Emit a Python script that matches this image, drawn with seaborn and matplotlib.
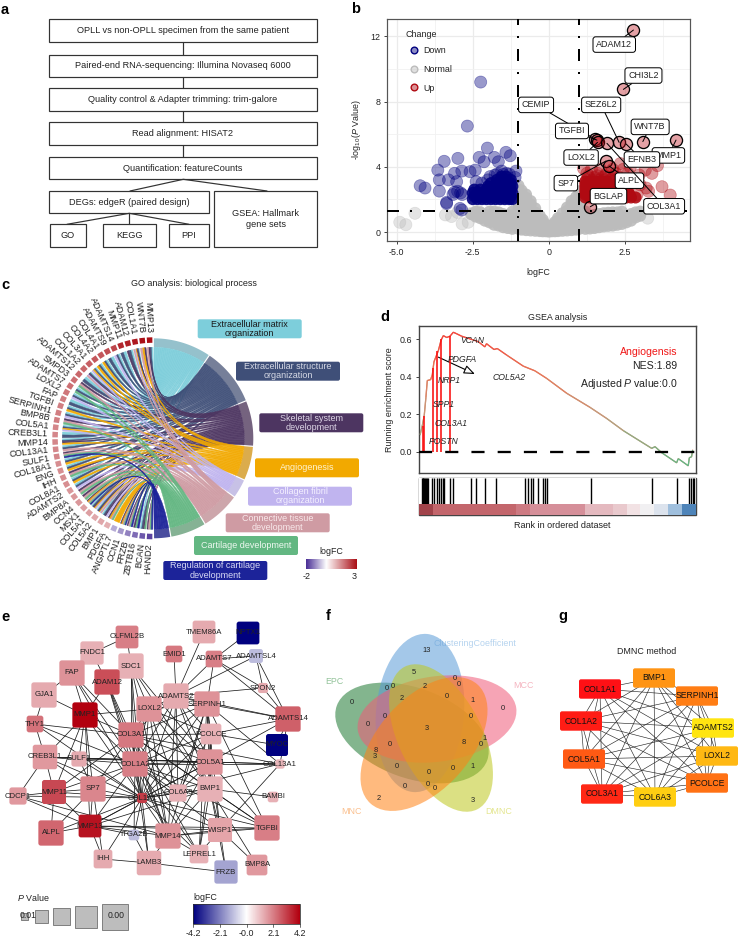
import numpy as np
import pandas as pd
import matplotlib
matplotlib.use('Agg')
import matplotlib.pyplot as plt
import seaborn as sns
from itertools import combinations
from matplotlib.collections import LineCollection
from matplotlib.colors import LinearSegmentedColormap, Normalize
from matplotlib.lines import Line2D
from matplotlib.patches import Ellipse, FancyBboxPatch, Polygon, PathPatch, Rectangle
from matplotlib.path import Path

# panel a
flow_steps = ['OPLL vs non-OPLL specimen from the same patient',
              'Paired-end RNA-sequencing: Illumina Novaseq 6000',
              'Quality control & Adapter trimming: trim-galore',
              'Read alignment: HISAT2',
              'Quantification: featureCounts']
flow_lower = ['DEGs: edgeR (paired design)', 'GSEA: Hallmark\ngene sets', 'GO', 'KEGG', 'PPI']

# panel b, normal genes as {logFC: [-log10 P, ...]}
normal_columns = {
    0.0: [.03, .2], -.1: [.05, .3, .45], -.2: [.05, .3, .6, .75], -.3: [.06, .35, .7, 1.0],
    -.45: [.08, .4, .8, 1.2, 1.45], -.6: [.1, .5, .9, 1.3, 1.7, 1.9],
    -.75: [.12, .5, .9, 1.3, 1.7, 2.1, 2.3], -.9: [.15, .55, .95, 1.35, 1.75, 2.15, 2.55],
    -1.0: [.2, .6, 1, 1.4, 1.8, 2.2, 2.6, 2.85],
    .1: [.05, .25, .4], .2: [.05, .3, .6], .3: [.06, .35, .7, .85], .45: [.08, .4, .8, 1.15],
    .6: [.1, .5, .9, 1.3, 1.5], .75: [.12, .5, .9, 1.3, 1.7, 1.9], .9: [.15, .55, .95, 1.35, 1.75, 2.15],
    1.0: [.2, .6, 1, 1.4, 1.8, 2.2, 2.5],
    -1.2: [.2, .6, 1, 1.25], -1.35: [.25, .65, 1.05], -1.5: [.3, .7, 1.1], -1.65: [.4, .8, 1.2], -1.8: [.45, .85, 1.25],
    -1.95: [.6, .95, 1.25], -2.1: [.7, 1.05], -2.25: [.85, 1.2], -2.4: [.95, 1.25], -2.55: [1.1],
    1.2: [.2, .6, 1, 1.25], 1.35: [.22, .62, 1.02], 1.5: [.25, .65, 1.05], 1.65: [.3, .7, 1.1], 1.8: [.35, .75, 1.15],
    1.95: [.38, .78, 1.18], 2.1: [.4, .8, 1.2], 2.25: [.45, .85, 1.2], 2.4: [.5, .9, 1.25], 2.55: [.6, 1.0],
    2.7: [.7, 1.1], 2.85: [.9, 1.2], 3.0: [1.0, 1.25],
}
normal_x = [-4.9, -4.7, -4.4, -3.4, -3.2, -2.85, -2.65, -3.0, -2.55, -2.3, 3.25]
normal_y = [.6, .45, 1.15, 1.05, .95, .5, .6, 1.2, 1.15, 1.25, .85]
# dense blocks as {-log10 P: [logFC, ...]}
down_rows = {
    2.02: [-2.5, -2.35, -2.2, -2.05, -1.9, -1.75, -1.6, -1.45, -1.3, -1.2],
    2.2: [-2.45, -2.3, -2.15, -2.0, -1.85, -1.7, -1.55, -1.4, -1.25],
    2.4: [-2.5, -2.35, -2.2, -2.05, -1.9, -1.75, -1.6, -1.45, -1.3, -1.2],
    2.6: [-2.45, -2.25, -2.05, -1.85, -1.7, -1.55, -1.4, -1.25],
    2.8: [-2.0, -1.8, -1.65, -1.5, -1.35, -1.2],
    3.0: [-1.9, -1.7, -1.55, -1.4, -1.25],
    3.2: [-1.7, -1.55, -1.4, -1.25],
    3.4: [-1.55, -1.4],
}
down_x = [-2.24, -2.68, -2.02, -1.41, -1.27, -2.29, -1.79, -2.13, -1.66, -2.99, -3.44, -3.65, -2.86, -3.1,
          -3.3, -3.03, -3.6, -2.42, -2.59, -2.39, -4.23, -4.07, -3.6, -3.36, -2.92, -2.86, -1.08, -1.11,
          -1.93, -1.55, -1.39, -1.77, -3.1, -3.0, -2.9, -3.15, -2.85, -3.36, -1.7, -1.5, -1.3, -2.2, -2.0]
down_y = [9.2, 6.5, 5.15, 4.89, 4.68, 4.58, 4.58, 4.31, 4.31, 4.52, 4.34, 3.8, 3.74, 3.6,
          3.2, 3.09, 3.2, 3.8, 3.7, 3.09, 2.84, 2.7, 2.51, 1.82, 1.45, 1.35, 3.74, 3.35,
          3.4, 3.74, 3.6, 3.5, 2.45, 2.5, 2.4, 2.3, 2.3, 1.75, 3.55, 3.55, 3.55, 3.0, 3.2]
up_rows = {
    2.12: [1.2, 1.35, 1.5, 1.65, 1.8, 1.95, 2.1, 2.25, 2.4, 2.55, 2.7, 2.85],
    2.3: [1.2, 1.3, 1.45, 1.6, 1.75, 1.9, 2.05, 2.2, 2.35, 2.5, 2.65],
    2.5: [1.2, 1.35, 1.5, 1.65, 1.8, 1.95, 2.1, 2.25, 2.4, 2.6],
    2.7: [1.2, 1.3, 1.45, 1.6, 1.75, 1.9, 2.05, 2.2],
    2.9: [1.2, 1.4, 1.55, 1.7, 1.85, 2.0, 2.2],
    3.1: [1.2, 1.35, 1.5, 1.7, 1.9],
}
up_x = [3.72, 3.99, 3.57, 3.39, 3.17, 3.28, 3.2, 2.97, 2.68, 2.35, 1.14, 3.0, 2.8, 2.9, 2.4, 2.1, 1.3, 1.5, 1.75, 2.0, 2.3,
        1.25, 1.6, 1.9, 2.2, 2.6, 1.4, 1.7, 2.1, 2.45, 1.25, 1.45, 1.65, 1.85, 2.05, 2.25, 1.3, 1.6, 1.85, 2.15]
up_y = [2.78, 2.27, 4.07, 3.6, 3.8, 2.5, 2.7, 3.5, 4.0, 4.2, 3.9, 2.9, 3.2, 2.3, 3.1, 3.1, 3.35, 3.35, 3.35, 3.35, 3.35,
        3.6, 3.6, 3.6, 3.6, 3.6, 3.85, 3.85, 3.85, 3.85, 3.2, 3.2, 3.2, 3.2, 3.2, 3.2, 3.45, 3.45, 3.45, 3.45]
gene_names = ['ADAM12', 'CHI3L2', 'CEMIP', 'SEZ6L2', 'TGFBI', 'WNT7B', 'MMP1', 'EFNB3', 'LOXL2', 'SP7', 'ALPL', 'BGLAP', 'COL3A1']
gene_fc = [2.78, 2.45, 1.52, 2.31, 1.58, 3.09, 4.18, 2.54, 1.6, 1.88, 1.98, 1.36, 1.91]
gene_p = [12.39, 8.75, 5.7, 5.5, 5.64, 5.55, 5.64, 5.4, 5.5, 4.36, 4.05, 1.55, 5.44]
gene_label_fc = [2.15, 3.11, -0.42, 1.72, 0.76, 3.33, 3.93, 3.06, 1.06, 0.56, 2.65, 1.96, 3.79]
gene_label_p = [11.5, 9.6, 7.8, 7.8, 6.2, 6.45, 4.7, 4.45, 4.57, 3.0, 3.15, 2.2, 1.58]

# panel c
term_names = ['Extracellular matrix\norganization', 'Extracellular structure\norganization',
              'Skeletal system\ndevelopment', 'Angiogenesis', 'Collagen fibril\norganization',
              'Connective tissue\ndevelopment', 'Cartilage development', 'Regulation of cartilage\ndevelopment']
term_codes = 'ABCDEFGH'
term_span = [34, 34, 26.6, 20, 11.3, 23, 21, 10]
term_colors = ['#7dcedb', '#3f4f78', '#4d3561', '#f2a900', '#c0b4ef', '#cf9ba3', '#63b782', '#1c2399']
term_ring = ['#95c1cc', '#767f99', '#75637f', '#dbac4c', '#c7c1e6', '#cda6ab', '#85b294', '#4a4d9f']
term_text = ['#1a1a1a', '#d5d8e4', '#ddd6e6', '#fff3d0', '#f4f0ff', '#f8e8ea', '#eef8f0', '#d8daf5']
chord_genes = ['MMP13', 'WNT7B', 'COL1A1', 'ADAM12', 'MMP11', 'ADAMTS14', 'ADAMTS9', 'COL4A1', 'COL4A2', 'COL3A1',
               'COL1A2', 'ADAMTS12', 'SMPD3', 'ADAMTS7', 'LOXL2', 'FAP', 'TGFBI', 'SERPINH1', 'BMP8B', 'COL5A1',
               'CREB3L1', 'MMP14', 'COL13A1', 'SULF1', 'COL18A1', 'ENG', 'IHH', 'COL8A1', 'ADAMTS2', 'BMP8A',
               'CCN4', 'MSX1', 'COL5A1', 'COL5A2', 'BMP1', 'PDGFA', 'ANGPTL7', 'CCN1', 'FRZB', 'ZBTB16', 'BCAN', 'HAND2']
chord_fc = [3.0, 3.0, 2.9, 2.8, 2.7, 2.3, 2.2, 2.1, 2.1, 2.0, 1.9, 1.9, 1.8, 1.8, 1.7, 1.6, 1.6, 1.6, 1.6, 1.5,
            1.5, 1.5, 1.5, 1.5, 1.4, 1.4, 1.4, 1.4, 1.3, 1.3, 1.3, 1.2, 1.2, 1.1, 1.1, 1.0,
            -0.8, -1.0, -1.2, -1.4, -1.6, -1.8]
chord_links = ['ABCF', 'CDF', 'ABCDEF', 'ABC', 'AB', 'ABE', 'AB', 'ABD', 'ABD', 'ABDE',
               'ABCEF', 'AB', 'CFG', 'ABG', 'ABE', 'AB', 'ABD', 'ABE', 'CFG', 'ABDE',
               'AB', 'ABCD', 'ABF', 'CFGH', 'ABD', 'ABD', 'CFG', 'ABD', 'ABE', 'CFG',
               'CFG', 'CDFGH', 'ABCDE', 'ABCDEF', 'ABCE', 'CDFG', 'D', 'CDFGH', 'CFGH', 'CGH', 'ABCG', 'CFGH']

# panel d
gsea_x = [0.4, 1.2, 1.9, 2.5, 3.0, 4.2, 4.8, 5.4, 7.0, 7.96, 8.8, 10.0, 11.2, 12.4, 13.6, 15.4, 19.6, 21.4, 23.8, 24.4,
          27.1, 28.3, 31.7, 37.7, 41.9, 46.1, 53.4, 61.8, 67.8, 73.9, 84.1, 85.3, 87.7, 93.1, 93.7, 97.3, 97.7, 98.5, 98.9]
gsea_y = [.09, .14, .195, .29, .38, .385, .41, .48, .54, .595, .62, .61, .617, .638, .63, .617, .597, .588, .56, .577,
          .546, .551, .516, .457, .432, .392, .312, .237, .178, .112, .018, .027, -.005, -.059, -.037, -.075, -.032, -.027, .009]
hit_x = [1.3, 1.9, 5.2, 6.65, 7.96, 11.2]
hit_top = [.14, .19, .445, .54, .6, .62]
hit_names = ['VCAN', 'PDGFA', 'COL5A2', 'NRP1', 'SPP1', 'COL3A1', 'POSTN']
hit_name_x = [19.3, 15.8, 26.7, 10.8, 8.8, 11.5, 9.0]
hit_name_y = [.595, .49, .395, .38, .25, .15, .052]
rug_x = [1.0, 1.3, 1.6, 1.9, 2.2, 2.5, 2.8, 3.1, 4.6, 5.5, 6.4, 7.2, 7.9, 8.5, 9.0, 11.2, 12.4, 18.8, 20.6, 23.8, 27.7,
         38.3, 39.5, 40.5, 41.3, 43.1, 44.9, 45.5, 46.1, 62.0, 84.2, 93.4, 97.5, 98.2, 98.9, 99.4]
strip_values = [2.7, 2.0, 2.0, 2.0, 2.0, 2.0, 2.0, 1.7, 1.4, 1.4, 1.4, 1.4, .8, .8, .6, .25, -.1, -.4, -1.3, -2.6]

# panel e
net_names = ['OLFML2B', 'FNDC1', 'TMEM86A', 'NPTX1', 'EMID1', 'ADAMTS7', 'ADAMTSL4', 'SDC1', 'FAP', 'ADAM12', 'GJA1',
             'ADAMTS2', 'SPON2', 'SERPINH1', 'LOXL2', 'MMP1', 'THY1', 'ADAMTS14', 'PCOLCE', 'COL3A1', 'MYOC',
             'CREB3L1', 'SULF1', 'COL1A2', 'COL5A1', 'COL13A1', 'BMP1', 'SP7', 'MMP11', 'COL6A3', 'COL1A1', 'CDCP1',
             'BAMBI', 'MMP13', 'ALPL', 'TGFBI', 'WISP1', 'MMP14', 'ITGA2B', 'LEPREL1', 'IHH', 'LAMB3', 'BMP8A', 'FRZB']
net_x = [127, 92, 204, 248, 174, 214, 256, 131, 72, 107, 44, 176, 263, 207, 149, 85, 35, 288, 211, 131, 277,
         45, 79, 135, 210, 280, 210, 93, 54, 178, 142, 18, 273, 90, 51, 267, 220, 168, 134, 199, 103, 149, 257, 226]
net_y = [637, 653, 632, 633, 654, 659, 656, 666, 673, 682, 695, 696, 688, 704, 709, 715, 724, 719, 734, 735, 745,
         757, 759, 764, 762, 764, 789, 789, 792, 793, 798, 796, 797, 826, 833, 828, 830, 836, 835, 854, 859, 863, 865, 872]
net_score = [.9, .92, .9, .9, .66, .66, .55, 1, 1, 1, 1, 1, .4, 1, 1, 1, .66, 1, .82, 1, .87,
             .97, .6, 1, 1, .37, 1, 1, .95, .68, .4, .68, .42, .9, 1, 1, .95, 1, .42, .74, .74, .97, .82, .92]
net_fc = [2.1, 1.3, 1.4, -4.2, 2.2, 2.1, -1.1, 1.3, 1.8, 2.9, 1.4, 1.4, 1.4, 1.8, 1.8, 4.2, 2.3, 2.6, 1.3, 2.2, -4.2,
          1.7, 1.4, 2.1, 1.8, 1.2, 1.3, 2.0, 3.0, 1.3, 3.2, 1.7, 1.3, 3.9, 2.5, 2.1, 1.5, 1.8, -1.1, 1.3, 1.4, 1.4, 1.7, -1.5]
net_edges = {
    'OLFML2B': 'FNDC1 SDC1', 'TMEM86A': 'ADAMTS2', 'NPTX1': 'ADAMTS7', 'EMID1': 'ADAMTS2',
    'ADAMTS7': 'ADAMTSL4 ADAMTS14 SERPINH1 ADAMTS2 SPON2',
    'ADAMTSL4': 'ADAMTS14 ADAMTS2 SPON2', 'SPON2': 'ADAMTS2 ADAMTS14', 'FAP': 'GJA1 COL1A1 COL1A2 COL3A1 MMP1 FNDC1',
    'GJA1': 'THY1 MMP1', 'THY1': 'CREB3L1 COL3A1 COL1A2 COL1A1',
    'MMP1': 'LOXL2 SP7 MMP11 MMP13 COL1A1 COL3A1 COL1A2 CREB3L1 SULF1 ADAM12',
    'ADAM12': 'COL1A1 COL1A2 COL3A1 FNDC1 MMP14', 'SDC1': 'COL1A1 COL1A2 COL3A1 COL5A1 BMP1 MMP14 LOXL2',
    'LOXL2': 'COL1A1 COL1A2 COL3A1 COL5A1 SERPINH1 ADAMTS2 BMP1 PCOLCE COL6A3 MMP14',
    'ADAMTS2': 'COL1A1 COL1A2 COL3A1 COL5A1 BMP1 SERPINH1 PCOLCE COL6A3 MMP14 ADAMTS14',
    'SERPINH1': 'COL1A1 COL1A2 COL3A1 COL5A1 BMP1 PCOLCE COL6A3 ADAMTS14 COL13A1 TGFBI WISP1 MMP14 LEPREL1',
    'PCOLCE': 'COL1A1 COL1A2 COL3A1 COL5A1 BMP1 ADAMTS14 COL6A3 MYOC',
    'COL3A1': 'COL1A1 COL1A2 COL5A1 BMP1 COL6A3 MMP14 SP7 LEPREL1 TGFBI MMP11 COL13A1',
    'COL1A2': 'COL1A1 COL5A1 BMP1 COL6A3 MMP14 SP7 MMP11 MMP13 ITGA2B LEPREL1 TGFBI WISP1 COL13A1 CREB3L1 LAMB3',
    'COL5A1': 'COL1A1 BMP1 COL6A3 MMP14 COL13A1 TGFBI LEPREL1 WISP1 ADAMTS14 MMP13 CREB3L1 SULF1',
    'BMP1': 'COL1A1 COL6A3 BAMBI TGFBI WISP1 MMP14 LEPREL1 MMP13 BMP8A FRZB',
    'COL1A1': 'SP7 MMP11 MMP13 ALPL COL6A3 MMP14 LAMB3 ITGA2B CDCP1 TGFBI WISP1 LEPREL1 COL13A1 CREB3L1 SULF1 IHH',
    'CREB3L1': 'CDCP1 SP7 MMP11 COL13A1', 'CDCP1': 'MMP11 MMP13 MMP14',
    'MMP11': 'SP7 ALPL MMP13', 'SP7': 'ALPL MMP13 IHH SULF1', 'ALPL': 'MMP13',
    'MMP13': 'IHH MMP14 ITGA2B WISP1 TGFBI', 'LAMB3': 'IHH FRZB MMP14 ITGA2B',
    'WISP1': 'FRZB BMP8A TGFBI MMP14 LEPREL1 COL13A1', 'MMP14': 'TGFBI LEPREL1',
    'ADAMTS14': 'MYOC COL13A1',
}
size_legend = ['0.01', '', '', '', '0.00']
size_legend_side = [7, 13, 17, 22, 26]
size_legend_x = [24, 41, 61, 86, 115]
fc_ticks = [-4.2, -2.1, 0.0, 2.1, 4.2]
fc_tick_labels = ['-4.2', '-2.1', '-0.0', '2.1', '4.2']

# panel f
venn_names = ['EPC', 'ClusteringCoefficient', 'MCC', 'DMNC', 'MNC']
venn_cx = [412, 420, 437, 441, 424]
venn_cy = [733, 713, 719, 738, 744]
venn_major = [240, 238, 240, 240, 240]
venn_minor = [135, 132, 128, 125, 138]
venn_angle = [-20, 85, 8, -63, 48]
venn_colors = ['#1e7832', '#5a9bd7', '#f05a78', '#bec81e', '#ff8214']
venn_label_colors = ['#93c39a', '#b5d3ef', '#f5b5c0', '#e4e68f', '#fbc08f']
venn_label_x = [334, 516, 524, 499, 351]
venn_label_y = [681, 644, 686, 811, 811]
venn_counts = [13, 5, 0, 0, 0, 0, 2, 0, 2, 1, 0, 0, 0, 0, 0, 3, 0, 8, 0, 1, 8, 3, 0, 0, 1, 0, 0, 0, 0, 2, 3]
venn_count_x = [427, 414, 455, 459, 387, 393, 425, 447, 402, 473, 352, 503, 385, 471, 368, 427, 390, 464, 481, 485,
                376, 375, 397, 453, 473, 429, 405, 428, 435, 379, 473]
venn_count_y = [650, 673, 679, 685, 689, 687, 686, 696, 698, 700, 702, 708, 716, 716, 725, 728, 744, 743, 745, 739,
                750, 756, 766, 769, 766, 773, 786, 785, 789, 799, 800]

# panel g
hub_names = ['COL1A1', 'BMP1', 'SERPINH1', 'ADAMTS2', 'LOXL2', 'PCOLCE', 'COL6A3', 'COL3A1', 'COL5A1', 'COL1A2']
hub_x = [600, 654, 697, 713, 717, 707, 655, 602, 584, 581]
hub_y = [689, 678, 696, 728, 756, 783, 797, 794, 759, 721]
hub_rank = [10, 4.5, 5.5, 1, 3, 6, 2, 9, 7, 9.5]

PX = 0.72  # one picture pixel in points

sns.set_theme(style='white', rc={'axes.linewidth': 1.2 * PX, 'text.color': '#222222',
                                 'axes.labelcolor': '#222222', 'xtick.color': '#222222', 'ytick.color': '#222222'})
plt.rcParams['font.family'] = ['Liberation Sans', 'DejaVu Sans']
plt.rcParams['mathtext.fontset'] = 'custom'
plt.rcParams['mathtext.rm'] = 'Liberation Sans'
plt.rcParams['mathtext.it'] = 'Liberation Sans:italic'

fig = plt.figure(figsize=(7.38, 9.41), dpi=100)
bg = fig.add_axes([0, 0, 1, 1])
bg.set_xlim(0, 738)
bg.set_ylim(941, 0)
bg.axis('off')


def px_axes(left, top, right, bottom):
    return fig.add_axes([left / 738, 1 - bottom / 941, (right - left) / 738, (bottom - top) / 941])


for label, lx, ly in zip('abcdefg', [5, 356, 5, 385, 5, 328, 563], [10, 9, 285, 317, 617, 616, 616]):
    bg.text(lx, ly, label, fontsize=10.5, fontweight='bold', color='black', ha='center', va='center')

# a: workflow
box_edge = '#333333'


def flow_box(x0, y0, x1, y1, text):
    bg.add_patch(Rectangle((x0, y0), x1 - x0, y1 - y0, fc='white', ec=box_edge, lw=1.2 * PX))
    bg.text((x0 + x1) / 2, (y0 + y1) / 2, text, fontsize=6.6, ha='center', va='center', linespacing=1.35)


flow_tops = [19.3, 55, 88.3, 122.3, 157.3]
flow_bots = [42, 76.7, 110.7, 145, 179.3]
for i, step in enumerate(flow_steps):
    flow_box(48.7, flow_tops[i], 317.3, flow_bots[i], step)
    if i < 4:
        bg.plot([183.3, 183.3], [flow_bots[i], flow_tops[i + 1]], color=box_edge, lw=1.2 * PX)
flow_box(48.7, 191, 209.3, 213.3, flow_lower[0])
flow_box(214.3, 191, 317.3, 247.3, flow_lower[1])
flow_box(49.7, 224.3, 86.3, 247.3, flow_lower[2])
flow_box(103, 224.3, 155.7, 247.3, flow_lower[3])
flow_box(168.7, 224.3, 209.3, 247.3, flow_lower[4])
bg.plot([130, 183.3, 267], [191, 179.3, 191], color=box_edge, lw=1.2 * PX)
bg.plot([67, 129.3, 189], [224.3, 213.3, 224.3], color=box_edge, lw=1.2 * PX)
bg.plot([129.3, 129.3], [213.3, 224.3], color=box_edge, lw=1.2 * PX)

# b: volcano
dense = [('Normal', x, y) for x, ys in normal_columns.items() for y in ys]
dense += [('Down', x, y) for y, xs in down_rows.items() for x in xs]
dense += [('Up', x, y) for y, xs in up_rows.items() for x in xs]
sparse = [('Normal', x, y) for x, y in zip(normal_x, normal_y)]
sparse += [('Down', x, y) for x, y in zip(down_x, down_y)]
sparse += [('Up', x, y) for x, y in zip(up_x, up_y)]
volcano_dense = pd.DataFrame(dense, columns=['Change', 'logFC', 'logP'])
volcano_sparse = pd.DataFrame(sparse, columns=['Change', 'logFC', 'logP'])
change_colors = {'Down': '#00007f', 'Normal': '#bcbcbc', 'Up': '#b00a12'}

ax_b = px_axes(387.3, 19.3, 690, 241)
sns.scatterplot(data=volcano_dense, x='logFC', y='logP', hue='Change', palette=change_colors, s=76, alpha=0.9,
                edgecolor='none', legend=False, ax=ax_b, zorder=3)
sns.scatterplot(data=volcano_sparse, x='logFC', y='logP', hue='Change', palette=change_colors, s=76, alpha=0.4,
                edgecolor='face', linewidth=0.5, legend=False, ax=ax_b, zorder=3)
sns.scatterplot(x=gene_fc, y=gene_p, s=76, color=(0.73, 0.04, 0.08, 0.38), edgecolor='black',
                linewidth=1.3 * PX, ax=ax_b, zorder=4)
ax_b.set_xlim(-5.31, 4.64)
ax_b.set_ylim(-0.55, 13.05)
ax_b.set_xticks([-5, -2.5, 0, 2.5], ['-5.0', '-2.5', '0', '2.5'])
ax_b.set_yticks([0, 4, 8, 12])
ax_b.set_xticks([-3.75, -1.25, 1.25, 3.75], minor=True)
ax_b.set_yticks([2, 6, 10], minor=True)
ax_b.grid(True, which='major', color='#ebebeb', lw=1.2 * PX)
ax_b.grid(True, which='minor', color='#f1f1f1', lw=0.8 * PX)
ax_b.set_axisbelow(True)
ax_b.tick_params(which='major', labelsize=6.4, length=2.5, width=0.6, bottom=True, left=True, pad=2.5)
ax_b.tick_params(which='minor', length=0)
for side in ax_b.spines.values():
    side.set_color('#555555')
    side.set_linewidth(1.2 * PX)
ax_b.set_xlabel('logFC', fontsize=6.4, labelpad=8)
ax_b.set_ylabel(r'-log$_{10}$($\mathit{P}$ Value)', fontsize=6.4, labelpad=5)
thick_dash = (0, (6, 5.5, 1, 5.5))
for cut in [-1, 1]:
    ax_b.axvline(cut, color='black', lw=2 * PX, ls=thick_dash, zorder=5)
ax_b.axhline(1.3, color='black', lw=2 * PX, ls=thick_dash, zorder=5)
for name, x, y, lx, ly in zip(gene_names, gene_fc, gene_p, gene_label_fc, gene_label_p):
    ax_b.annotate(name, xy=(x, y), xytext=(lx, ly), fontsize=6.5, ha='center', va='center', zorder=7,
                  bbox=dict(boxstyle='round,pad=0.36,rounding_size=0.3', fc='white', ec='black', lw=1.0 * PX),
                  arrowprops=dict(arrowstyle='-', color='black', lw=1.0 * PX, shrinkA=0, shrinkB=0))
handles = [Line2D([], [], ls='', marker='o', ms=4.8, mfc=(*matplotlib.colors.to_rgb(c), 0.45), mec=c, mew=1.0,
                  label=k) for k, c in change_colors.items()]
leg_b = ax_b.legend(handles=handles, title='Change', loc='upper left', bbox_to_anchor=(0.035, 0.985), frameon=False, fontsize=6.4,
                    title_fontsize=6.4, labelspacing=1.12, handletextpad=0.05, borderpad=0.3, alignment='left')
leg_b._legend_box.sep = 5

# c: chord diagram
cx, cy = 153.3, 438.3


def polar(r, deg):
    rad = np.deg2rad(deg)
    return cx + r * np.cos(rad), cy - r * np.sin(rad)


def ring(r0, r1, a0, a1, **kw):
    angs = np.linspace(a0, a1, 24)
    outer = [polar(r1, a) for a in angs]
    inner = [polar(r0, a) for a in angs[::-1]]
    bg.add_patch(Polygon(outer + inner, closed=True, lw=0, **kw))


def arc_codes(points):
    return [Path.LINETO] * len(points)


def ribbon(a0, a1, b0, b1, color, r=91):
    # a0 < a1 on the gene side, b0 < b1 on the term side
    gene_arc = [polar(r, a) for a in np.linspace(a0, a1, 5)]
    term_arc = [polar(r, b) for b in np.linspace(b0, b1, 12)]
    verts = gene_arc + [(cx, cy)] + term_arc + [(cx, cy), gene_arc[0]]
    codes = [Path.MOVETO] + arc_codes(gene_arc[1:]) + [Path.CURVE3, Path.CURVE3] + arc_codes(term_arc[1:]) \
        + [Path.CURVE3, Path.CURVE3]
    bg.add_patch(PathPatch(Path(verts, codes), fc=color, ec=color, alpha=0.95, lw=0.45 * PX, zorder=2))


gene_step = 180 / len(chord_genes)
term_top = 90.0
term_ranges = {}
for code, span in zip(term_codes, term_span):
    term_ranges[code] = (term_top - span, term_top)
    term_top -= span
fc_norm_c = Normalize(-2, 3)
cmap_c = LinearSegmentedColormap.from_list('c', [(0, '#4a2f96'), (0.4, '#ffffff'), (1, '#aa0f16')])
for k, code in enumerate(term_codes):
    low, high = term_ranges[code]
    ring(91, 100, low + 0.35, high - 0.35, fc=term_ring[k], zorder=2)
    members = [i for i, links in enumerate(chord_links) if code in links]
    width = (high - low - 0.8) / len(members)
    for pos, i in enumerate(members):
        links = chord_links[i]
        gene_start = 90 + gene_step * i + 0.3
        link_w = (gene_step - 0.6) / len(links)
        g0 = gene_start + link_w * links.index(code)
        t1 = high - 0.4 - width * pos
        ribbon(g0, g0 + link_w * 0.95, t1 - width, t1, term_colors[k])
for i, gene in enumerate(chord_genes):
    mid = 90 + gene_step * (i + 0.5)
    ring(95.5, 101, mid - 1.6, mid + 1.6, fc=cmap_c(fc_norm_c(chord_fc[i])), zorder=3)
    tx, ty = polar(105.5, mid)
    bg.text(tx, ty, gene, fontsize=6.5, rotation=mid - 180, rotation_mode='anchor', ha='right', va='center')
bg.text(194, 283.3, 'GO analysis: biological process', fontsize=6.45, ha='center', va='center')
term_x0 = [197.7, 236, 259.3, 255, 248, 225.7, 194, 163.3]
term_y0 = [319.3, 361.7, 413.3, 458.3, 486.7, 513.3, 536, 561]
for k, name in enumerate(term_names):
    bg.add_patch(FancyBboxPatch((term_x0[k] + 2, term_y0[k] + 2), 100, 15, boxstyle='round,pad=2,rounding_size=2',
                                fc=term_colors[k], ec='none', zorder=4))
    bg.text(term_x0[k] + 52, term_y0[k] + 9.5, name, fontsize=6.5, color=term_text[k], ha='center', va='center',
            linespacing=1.05, zorder=5)
bg.imshow(np.linspace(0, 1, 100).reshape(1, -1), cmap=cmap_c, extent=(305.7, 356.7, 569.3, 559.3), aspect='auto', zorder=4)
bg.set_xlim(0, 738)
bg.set_ylim(941, 0)
bg.text(331, 551.5, 'logFC', fontsize=6.4, ha='center', va='center')
bg.text(307, 576.5, '-2', fontsize=6.4, ha='center', va='center')
bg.text(354, 576.5, '3', fontsize=6.4, ha='center', va='center')

# d: GSEA
ax_d = px_axes(419, 325.7, 695.7, 472.7)
sns.lineplot(x=gsea_x, y=gsea_y, color='#d98a70', lw=1.2 * PX, sort=False, ax=ax_d, errorbar=None)
gsea_cmap = LinearSegmentedColormap.from_list('es', ['#62b986', '#c0a080', '#e8795a', '#f8403a'])
pts = np.column_stack([gsea_x, gsea_y])
segments = np.stack([pts[:-1], pts[1:]], axis=1)
es_line = LineCollection(segments, cmap=gsea_cmap, norm=Normalize(-0.05, 0.64), lw=1.3 * PX, zorder=3)
es_line.set_array((pts[:-1, 1] + pts[1:, 1]) / 2)
ax_d.add_collection(es_line)
ax_d.vlines(hit_x, 0, hit_top, color='#fa1010', lw=1.6 * PX, zorder=4)
ax_d.axhline(0, color='black', lw=2.3 * PX, ls=(0, (5.7, 5.7)), zorder=5)
ax_d.set_xlim(0, 100)
ax_d.set_ylim(-0.112, 0.673)
ax_d.set_xticks([])
ax_d.set_yticks([0, 0.2, 0.4, 0.6], ['0.0', '0.2', '0.4', '0.6'])
ax_d.tick_params(labelsize=6.4, length=2.5, width=0.6, left=True, pad=2.5)
ax_d.set_ylabel('Running enrichment score', fontsize=6.4, labelpad=4)
ax_d.set_title('GSEA analysis', fontsize=6.4, pad=4)
for side in ax_d.spines.values():
    side.set_color('#444444')
    side.set_linewidth(1.4 * PX)
for name, x, y in zip(hit_names, hit_name_x, hit_name_y):
    ax_d.text(x, y, name, fontsize=6.2, style='italic', ha='left' if name in ['COL5A2'] else 'center', va='center', zorder=6)
ax_d.annotate('', xy=(20.2, 0.415), xytext=(7, 0.505),
              arrowprops=dict(arrowstyle='-|>,head_width=0.22,head_length=0.55', fc='white', ec='black', lw=1.1 * PX, shrinkA=0, shrinkB=0))
ax_d.text(93.5, 0.53, 'Angiogensis', fontsize=7.6, color='#f01818', ha='right', va='center')
ax_d.text(93.5, 0.46, 'NES:1.89', fontsize=7.6, ha='right', va='center')
ax_d.text(93.5, 0.362, r'Adjusted $\mathit{P}$ value:0.0', fontsize=7.6, ha='right', va='center')

ax_rug = px_axes(419, 477.7, 695.7, 504)
sns.rugplot(x=rug_x, height=1, color='black', lw=1.1 * PX, ax=ax_rug)
ax_rug.set_xlim(0, 100)
ax_rug.set_xticks([])
ax_rug.set_yticks([])
for side in ax_rug.spines.values():
    side.set_visible(False)
ax_strip = px_axes(419, 504, 695.7, 515)
strip_cmap = LinearSegmentedColormap.from_list('rank', [(0, '#3572ae'), (0.27, '#9abcdc'), (0.5, '#f8f4f4'),
                                                        (0.73, '#d6909a'), (0.83, '#c5686e'), (1, '#93353c')])
sns.heatmap(np.array([strip_values]), cmap=strip_cmap, vmin=-3, vmax=3, cbar=False, xticklabels=False,
            yticklabels=False, ax=ax_strip)
bg.add_patch(Rectangle((419, 477.7), 276.7, 37.3, fc='none', ec='#444444', lw=1.4 * PX, zorder=6))
fig.text(562 / 738, 1 - 525.5 / 941, 'Rank in ordered dataset', fontsize=6.45, ha='center', va='center', color='#222222')

# e: PPI network
pos_e = {n: (x, y) for n, x, y in zip(net_names, net_x, net_y)}
for src, targets in net_edges.items():
    for dst in targets.split():
        bg.plot([pos_e[src][0], pos_e[dst][0]], [pos_e[src][1], pos_e[dst][1]], color='#1a1a1a', lw=0.75 * PX, zorder=2,
                solid_capstyle='round')
cmap_e = LinearSegmentedColormap.from_list('e', ['#00007f', '#ffffff', '#b2000f'])
norm_e = Normalize(-4.2, 4.2)
for name, x, y, score, val in zip(net_names, net_x, net_y, net_score, net_fc):
    side = 25.3 * score
    bg.add_patch(FancyBboxPatch((x - side / 2 + 2, y - side / 2 + 2), side - 4, side - 4,
                                boxstyle='round,pad=2,rounding_size=2.5', fc=cmap_e(norm_e(val)), ec='none', zorder=3))
    bg.text(x, y, name, fontsize=5.6, ha='center', va='center', color='#222222', zorder=4)
bg.text(33, 897.5, r'$\mathit{P}$ Value', fontsize=6.4, ha='center', va='center')
for label, side, x in zip(size_legend, size_legend_side, size_legend_x):
    bg.add_patch(Rectangle((x - side / 2, 916.5 - side / 2), side, side, fc='#bdbdbd', ec='#777777', lw=0.9 * PX, zorder=3))
    if label:
        bg.text(x + (4 if side < 10 else 1), 915.5, label, fontsize=6.2, ha='center', va='center', zorder=4)
bg.imshow(np.linspace(0, 1, 200).reshape(1, -1), cmap=cmap_e, extent=(193.3, 300, 924, 904), aspect='auto', zorder=3)
bg.add_patch(Rectangle((193.3, 904), 106.7, 20, fc='none', ec='#333333', lw=0.8 * PX, zorder=4))
bg.set_xlim(0, 738)
bg.set_ylim(941, 0)
bg.text(205, 897.5, 'logFC', fontsize=6.4, ha='center', va='center')
for tick, label in zip(fc_ticks, fc_tick_labels):
    tx = 193.3 + (tick + 4.2) / 8.4 * 106.7
    bg.plot([tx, tx], [924, 926.5], color='#333333', lw=0.7 * PX, zorder=4)
    bg.text(tx, 933, label, fontsize=6.4, ha='center', va='center')

# f: Venn, drawn in the order of the lists
for i in range(len(venn_names)):
    bg.add_patch(Ellipse((venn_cx[i], venn_cy[i]), venn_major[i] * 2 / 3, venn_minor[i] * 2 / 3, angle=-venn_angle[i],
                         fc=venn_colors[i], ec='none', alpha=0.55, zorder=3))
for i, name in enumerate(venn_names):
    bg.text(venn_label_x[i], venn_label_y[i], name, fontsize=6.4, color=venn_label_colors[i],
            ha='right' if name.startswith('Clustering') else 'center', va='center', zorder=2)
for val, x, y in zip(venn_counts, venn_count_x, venn_count_y):
    bg.text(x, y, str(val), fontsize=5.4, ha='center', va='center', zorder=4)

# g: top hub genes
for (a_x, a_y), (b_x, b_y) in combinations(zip(hub_x, hub_y), 2):
    bg.plot([a_x, b_x], [a_y, b_y], color='#222222', lw=0.6 * PX, zorder=2)
cmap_g = LinearSegmentedColormap.from_list('g', ['#ffe511', '#ffa014', '#ff5a14', '#ff1015'])
norm_g = Normalize(1, 10)
for name, x, y, rank in zip(hub_names, hub_x, hub_y, hub_rank):
    bg.add_patch(FancyBboxPatch((x - 19, y - 7.7), 38, 15.4, boxstyle='round,pad=2,rounding_size=2',
                                fc=cmap_g(norm_g(rank)), ec='none', zorder=3))
    bg.text(x, y, name, fontsize=6.2, ha='center', va='center', color='#111111', zorder=4)
bg.text(647, 651, 'DMNC method', fontsize=6.4, ha='center', va='center')

fig.savefig('out.png', dpi=100)
